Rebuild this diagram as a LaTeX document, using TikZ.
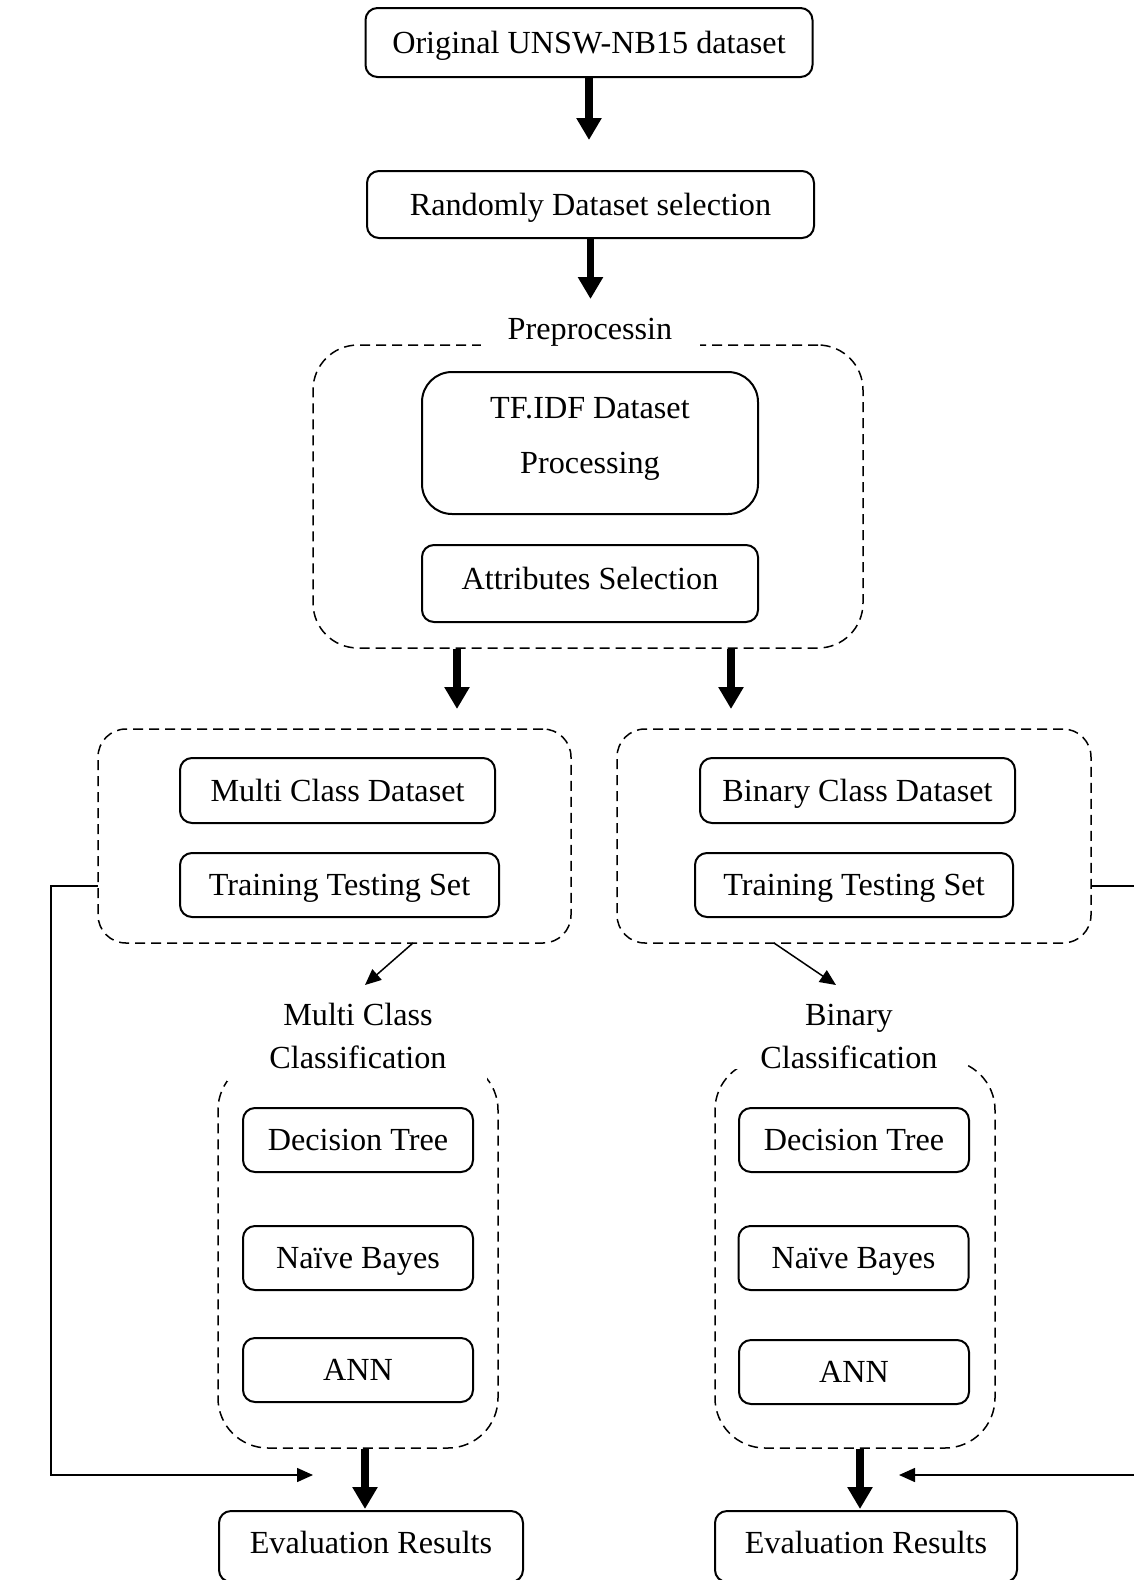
\documentclass[tikz,border=0pt]{standalone}
\usepackage{fontspec}
\setmainfont{Liberation Serif}
\usetikzlibrary{arrows.meta}

\begin{document}
\begin{tikzpicture}[x=0.5pt,y=-0.5pt,
  every node/.style={font=\fontsize{16.1pt}{19pt}\selectfont, inner sep=0pt},
  box/.style={draw, line width=1pt, rounded corners=6pt,
              text height=14.1pt, text depth=3.6pt},
  groupbox/.style={draw, line width=0.75pt, dash pattern=on 5pt off 3pt},
  twoline/.style={align=center, font=\fontsize{16.1pt}{21.5pt}\selectfont},
  thickarr/.style={line width=3.6pt, -{Triangle[length=11pt,width=12pt]}},
  thinarr/.style={line width=0.75pt, -{Triangle[length=8pt,width=7pt]}}]

\useasboundingbox (0,0) rectangle (1134,1580);

% input and sampling
\node[box, minimum width=223.5pt, minimum height=34.5pt] (orig) at (589,42.5) {Original UNSW-NB15 dataset};
\node[box, minimum width=223.5pt, minimum height=33.5pt] (rand) at (590.5,204.5) {Randomly Dataset selection};
\coordinate (a1) at (589,140);
\coordinate (a2) at (590.5,299);
\draw[thickarr] (orig.south) -- (a1);
\draw[thickarr] (rand.south) -- (a2);

% preprocessing group
\node[groupbox, rounded corners=22.5pt, minimum width=275pt, minimum height=151.5pt] (prep) at (588,496.5) {};
\fill[white] (481,330) rectangle (700,360);
\node[text height=14.1pt, text depth=3.6pt] (preplbl) at (590,329) {Preprocessin};
\node[draw, line width=1pt, rounded corners=15pt, minimum width=168pt, minimum height=71pt] (tfidf) at (590,443) {};
\node[align=center, font=\fontsize{16.1pt}{27.5pt}\selectfont] (tfidftxt) at (590,439) {TF.IDF Dataset\\Processing};
\node[box, text depth=7.9pt, minimum width=168pt, minimum height=38.5pt] (attr) at (590,583.5) {Attributes Selection};

\coordinate (p1) at (457,709);
\coordinate (p2) at (731,709);
\draw[thickarr] (prep.south -| p1) -- (p1);
\draw[thickarr] (prep.south -| p2) -- (p2);

% multi class branch
\node[groupbox, rounded corners=14pt, minimum width=236.5pt, minimum height=107pt] (mgrp) at (334.5,836) {};
\node[box, minimum width=157.5pt, minimum height=32.5pt] (mcd) at (337.5,790.5) {Multi Class Dataset};
\node[box, minimum width=159.5pt, minimum height=32pt] (mtts) at (339.5,885) {Training Testing Set};

% binary branch
\node[groupbox, rounded corners=14pt, minimum width=237pt, minimum height=107pt] (bgrp) at (854,836) {};
\node[box, minimum width=157.5pt, minimum height=32.5pt] (bcd) at (857.5,790.5) {Binary Class Dataset};
\node[box, minimum width=159pt, minimum height=32pt] (btts) at (854,885) {Training Testing Set};

% classifier groups
\node[groupbox, rounded corners=25pt, minimum width=140pt, minimum height=194pt] (cboxL) at (358,1254) {};
\node[groupbox, rounded corners=25pt, minimum width=140pt, minimum height=194pt] (cboxR) at (855,1254) {};
\fill[white] (227,1035) rectangle (487,1081);
\fill[white] (735,1035) rectangle (967,1069);
\node[twoline] (mclbl) at (358,1036) {Multi Class\\Classification};
\node[twoline] (bclbl) at (849,1036) {Binary\\Classification};

\coordinate (ms) at (413,943);
\coordinate (me) at (365,985);
\coordinate (bs) at (774,943);
\coordinate (be) at (836,985);
\draw[thinarr] (ms) -- (me);
\draw[thinarr] (bs) -- (be);

\node[box, minimum width=115pt, minimum height=32pt] (dtL) at (358,1140) {Decision Tree};
\node[box, minimum width=115pt, minimum height=32pt] (nbL) at (358,1258) {Naïve Bayes};
\node[box, minimum width=115pt, minimum height=32pt] (annL) at (358,1370) {ANN};
\node[box, minimum width=115pt, minimum height=32pt] (dtR) at (854,1140) {Decision Tree};
\node[box, minimum width=115pt, minimum height=32pt] (nbR) at (853.5,1258) {Naïve Bayes};
\node[box, minimum width=115pt, minimum height=32pt] (annR) at (854,1372) {ANN};

% evaluation
\node[box, text depth=7pt, minimum width=152pt, minimum height=35.5pt] (evalL) at (371,1546.5) {Evaluation Results};
\node[box, text depth=7pt, minimum width=151pt, minimum height=35.5pt] (evalR) at (866,1546.5) {Evaluation Results};

\coordinate (eL) at (365,1509);
\coordinate (eR) at (860,1509);
\draw[thickarr] (cboxL.south -| eL) -- (eL);
\draw[thickarr] (cboxR.south -| eR) -- (eR);

% direct paths from the datasets to evaluation
\coordinate (fL) at (98,886);
\coordinate (fLend) at (313,1475);
\coordinate (fR) at (1091,886);
\coordinate (fRend) at (899,1475);
\draw[thinarr] (fL) -- (51,886) -- (51,1475) -- (fLend);
\draw[thinarr] (fR) -- (1140,886) -- (1140,1475) -- (fRend);

\end{tikzpicture}
\end{document}
